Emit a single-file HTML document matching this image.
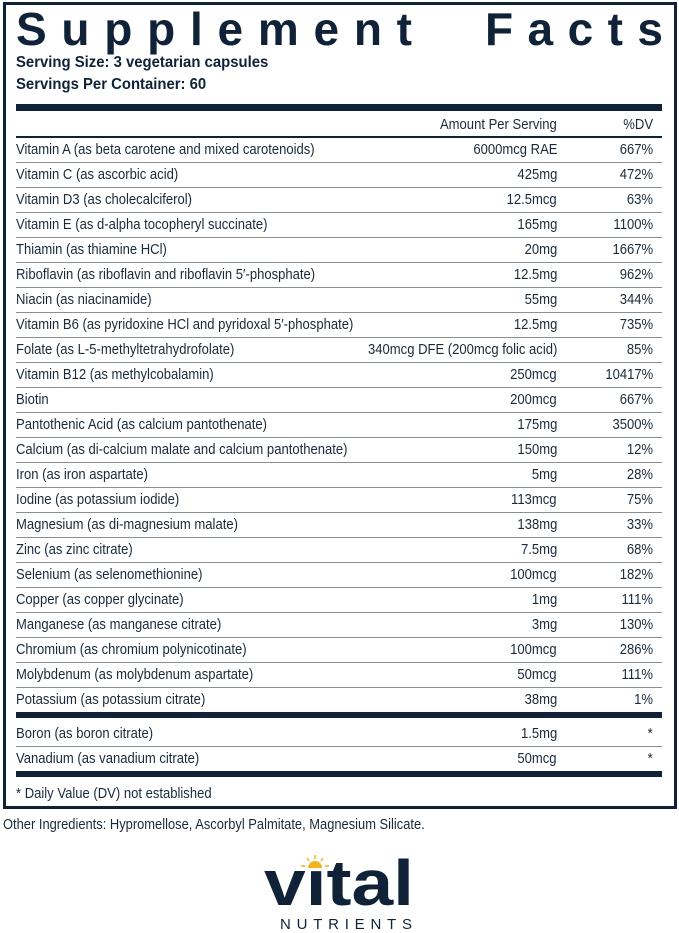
<!DOCTYPE html>
<html><head><meta charset="utf-8"><style>
html,body{margin:0;padding:0;background:#fff;}
body{width:679px;height:933px;position:relative;overflow:hidden;color:#0f2238;font-family:"Liberation Sans",sans-serif;}
.box{position:absolute;left:3px;top:2px;width:668px;height:801px;border:3px solid #0f2238;}
.t{position:absolute;font-size:14.5px;line-height:18px;white-space:nowrap;color:#1a2a3a;transform:scaleX(0.9);transform-origin:left center;}
.a{position:absolute;right:122px;text-align:right;font-size:14.5px;line-height:18px;white-space:nowrap;color:#1a2a3a;transform:scaleX(0.9);transform-origin:right center;}
.d{position:absolute;right:26px;text-align:right;font-size:14.5px;line-height:18px;white-space:nowrap;color:#1a2a3a;transform:scaleX(0.9);transform-origin:right center;}
.ln{position:absolute;left:16px;width:646px;height:1px;background:#8a8f96;}
.bar{position:absolute;left:16px;width:646px;background:#0f2238;}
</style></head><body>
<div class="box"></div>
<svg style="position:absolute;left:0;top:0" width="679" height="60">
<text x="16" y="45" textLength="396" lengthAdjust="spacing" font-family="Liberation Sans" font-weight="bold" font-size="46" fill="#0f2238">Supplement</text>
<text x="485" y="45" textLength="178" lengthAdjust="spacing" font-family="Liberation Sans" font-weight="bold" font-size="46" fill="#0f2238">Facts</text>
</svg>
<div class="t" style="left:16px;top:54px;font-weight:bold;font-size:16px;color:#0f2238;transform:scaleX(0.93)">Serving Size: 3 vegetarian capsules</div>
<div class="t" style="left:16px;top:76px;font-weight:bold;font-size:16px;color:#0f2238;transform:scaleX(0.93)">Servings Per Container: 60</div>
<div class="bar" style="top:104px;height:7px"></div>
<div class="a" style="top:116px">Amount Per Serving</div>
<div class="d" style="top:116px">%DV</div>
<div class="bar" style="top:136px;height:2px"></div>
<div id="rows"></div>
<div class="bar" style="top:712px;height:6px"></div>
<div class="bar" style="top:771px;height:6px"></div>
<div class="t" style="left:16px;top:785px">* Daily Value (DV) not established</div>
<div class="t" style="left:3px;top:816px;transform:scaleX(0.89)">Other Ingredients: Hypromellose, Ascorbyl Palmitate, Magnesium Silicate.</div>
<svg style="position:absolute;left:260px;top:848px" width="160" height="85">
<text x="4" y="57" font-family="Liberation Sans" font-weight="bold" font-size="64" textLength="150" lengthAdjust="spacingAndGlyphs" fill="#0f2238">vital</text>
<rect x="45" y="0" width="19" height="22" fill="#fff"/>
<g stroke="#f2b320" stroke-width="1.5"><line x1="55" y1="7" x2="55" y2="11"/><line x1="47" y1="10" x2="49" y2="13"/><line x1="63" y1="10" x2="61" y2="13"/><line x1="41" y1="18" x2="45" y2="18"/><line x1="65" y1="18" x2="69" y2="18"/></g>
<path d="M48 20 A7 7 0 0 1 62 20 Z" fill="#f2b320"/>
<text x="20" y="81" font-family="Liberation Sans" font-size="15" textLength="132" lengthAdjust="spacing" fill="#0f2238">NUTRIENTS</text>
</svg>
<script>
var r=[["Vitamin A (as beta carotene and mixed carotenoids)","6000mcg RAE","667%"],
["Vitamin C (as ascorbic acid)","425mg","472%"],
["Vitamin D3 (as cholecalciferol)","12.5mcg","63%"],
["Vitamin E (as d-alpha tocopheryl succinate)","165mg","1100%"],
["Thiamin (as thiamine HCl)","20mg","1667%"],
["Riboflavin (as riboflavin and riboflavin 5′-phosphate)","12.5mg","962%"],
["Niacin (as niacinamide)","55mg","344%"],
["Vitamin B6 (as pyridoxine HCl and pyridoxal 5′-phosphate)","12.5mg","735%"],
["Folate (as L-5-methyltetrahydrofolate)","340mcg DFE (200mcg folic acid)","85%"],
["Vitamin B12 (as methylcobalamin)","250mcg","10417%"],
["Biotin","200mcg","667%"],
["Pantothenic Acid (as calcium pantothenate)","175mg","3500%"],
["Calcium (as di-calcium malate and calcium pantothenate)","150mg","12%"],
["Iron (as iron aspartate)","5mg","28%"],
["Iodine (as potassium iodide)","113mcg","75%"],
["Magnesium (as di-magnesium malate)","138mg","33%"],
["Zinc (as zinc citrate)","7.5mg","68%"],
["Selenium (as selenomethionine)","100mcg","182%"],
["Copper (as copper glycinate)","1mg","111%"],
["Manganese (as manganese citrate)","3mg","130%"],
["Chromium (as chromium polynicotinate)","100mcg","286%"],
["Molybdenum (as molybdenum aspartate)","50mcg","111%"],
["Potassium (as potassium citrate)","38mg","1%"]];
var h="";
function row(y,x,last){h+='<div class="t" style="left:16px;top:'+(y-9)+'px">'+x[0]+'</div><div class="a" style="top:'+(y-9)+'px">'+x[1]+'</div><div class="d" style="top:'+(y-9)+'px">'+x[2]+'</div>';if(!last)h+='<div class="ln" style="top:'+(y+12)+'px"></div>';}
for(var i=0;i<r.length;i++)row(150+25*i,r[i],i==r.length-1);
row(734,["Boron (as boron citrate)","1.5mg","*"],false);
row(759,["Vanadium (as vanadium citrate)","50mcg","*"],true);
document.getElementById("rows").innerHTML=h;
</script>
</body></html>
